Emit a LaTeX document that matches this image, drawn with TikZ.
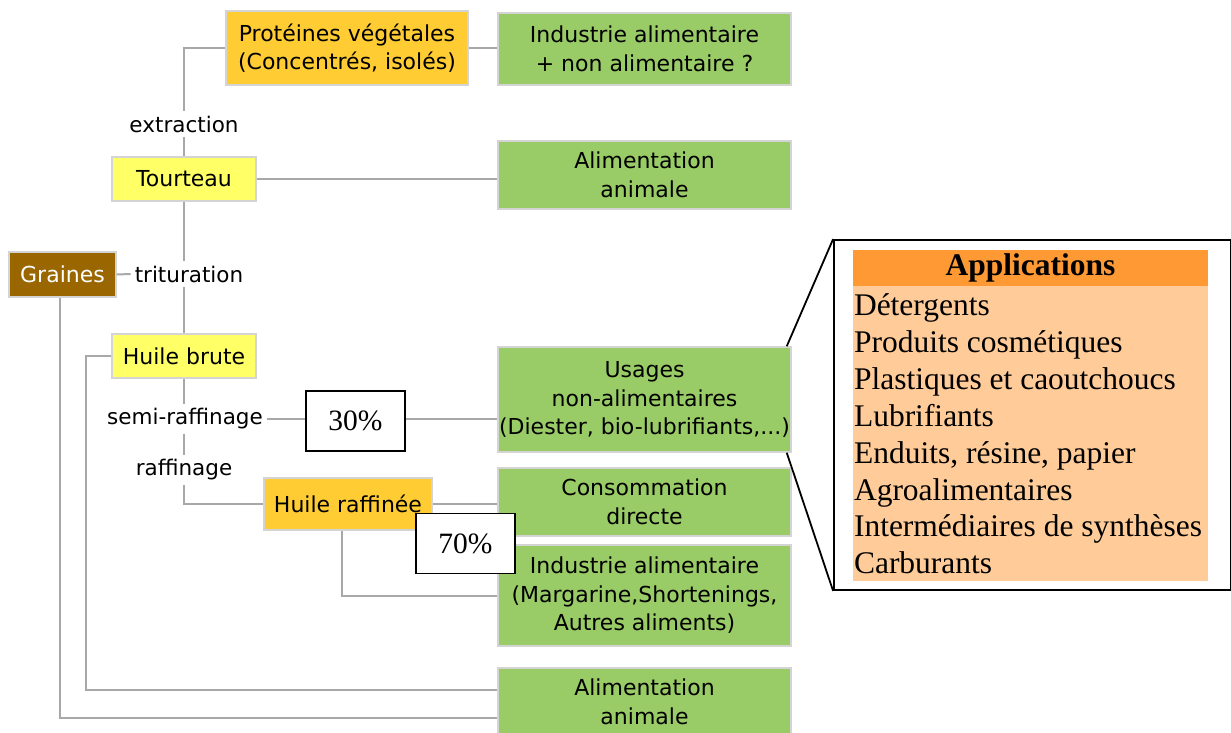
\documentclass[tikz,border=0pt]{standalone}
\usepackage{fontspec}
\setmainfont{Liberation Serif}
\newfontfamily\boitefont{DejaVu Sans}
\usetikzlibrary{positioning}
\definecolor{vert}{HTML}{99CC66}
\definecolor{jaune}{HTML}{FFFF66}
\definecolor{orangeclair}{HTML}{FFCC33}
\definecolor{brun}{HTML}{996600}
\definecolor{entetefond}{HTML}{FF9933}
\definecolor{corpsfond}{HTML}{FFCC99}
\definecolor{bord}{HTML}{D4D4D4}
\definecolor{liaison}{HTML}{A8A8A8}

\begin{document}
\begin{tikzpicture}[x=1pt, y=-1pt]
    \tikzset{boite/.style={draw=bord, line width=1.5pt, inner sep=0pt, align=center,
        font=\boitefont\fontsize{22}{28.5}\selectfont},
      etiq/.style={inner sep=4pt, font=\boitefont\fontsize{21.5}{28}\selectfont},
      pourcent/.style={draw=black, fill=white, line width=1.5pt, minimum width=99pt,
        minimum height=60pt, font=\fontsize{29.5}{34}\selectfont},
      lien/.style={draw=liaison, line width=2pt},
      appel/.style={draw=black, line width=1.8pt}}
    \useasboundingbox (0,0) rectangle (1231,733);
    \clip (0,0) rectangle (1231,733);

    \node[boite, fill=orangeclair, minimum width=242pt, minimum height=74pt] (proteines) at (347,48)
        {Protéines végétales\\(Concentrés, isolés)};
    \node[boite, fill=vert, minimum width=293pt, minimum height=72pt] (indnonalim) at (644.5,49)
        {Industrie alimentaire\\+ non alimentaire ?};
    \node[boite, fill=jaune, minimum width=144pt, minimum height=44pt] (tourteau) at (184,179) {Tourteau};
    \node[boite, fill=vert, minimum width=293pt, minimum height=68pt] (alimhaut) at (644.5,175)
        {Alimentation\\animale};
    \node[boite, fill=brun, text=white, minimum width=107pt, minimum height=45pt] (graines) at (62.5,274.5) {Graines};
    \node[boite, fill=jaune, minimum width=144pt, minimum height=44pt] (brute) at (184,356) {Huile brute};
    \node[boite, fill=vert, minimum width=293pt, minimum height=105pt] (usages) at (644.5,399.5)
        {Usages\\non-alimentaires\\(Diester, bio-lubrifiants,...)};
    \node[boite, fill=orangeclair, minimum width=168pt, minimum height=52pt] (raffinee) at (348,504) {Huile raffinée};
    \node[boite, fill=vert, minimum width=293pt, minimum height=68pt] (conso) at (644.5,502)
        {Consommation\\directe};
    \node[boite, fill=vert, minimum width=293pt, minimum height=101pt] (indalim) at (644.5,595.5)
        {Industrie alimentaire\\(Margarine,Shortenings,\\Autres aliments)};
    \node[boite, fill=vert, minimum width=293pt, minimum height=68pt] (alimbas) at (644.5,702)
        {Alimentation\\animale};

    \node[etiq] (extraction) at (184,124) {extraction};
    \node[etiq] (trituration) at (189,274) {trituration};
    \node[etiq] (semi) at (185,419) {semi-raffinage};
    \node[etiq] (raffinage) at (184,470) {raffinage};
    \node[pourcent] (p30) at (355.5,421) {30\%};

    \draw[lien] (proteines.west) -| (extraction.north);
    \draw[lien] (extraction.south) -- (tourteau.north);
    \draw[lien] (proteines.east) -- (proteines.east -| indnonalim.west);
    \draw[lien] (tourteau.east) -- (tourteau.east -| alimhaut.west);
    \draw[lien] (tourteau.south) -- (tourteau.south |- trituration.north);
    \draw[lien] (tourteau.south |- trituration.south) -- (brute.north);
    \draw[lien] (graines.east) -- (trituration.west);
    \draw[lien] (brute.south) -- (brute.south |- semi.north);
    \draw[lien] (brute.south |- semi.south) -- (raffinage.north);
    \draw[lien] (raffinage.south) |- (raffinee.west);
    \draw[lien] (semi.east) -- (semi.east -| p30.west);
    \draw[lien] (p30.east |- semi.east) -- (semi.east -| usages.west);
    \draw[lien] (raffinee.east) -- (raffinee.east -| conso.west);
    \draw[lien] ([xshift=-6pt]raffinee.south) |- (indalim.west);
    \draw[lien] (brute.west) -- ++(-25,0) |- ([yshift=12pt]alimbas.west);
    \draw[lien] ([xshift=-2.5pt]graines.south) |- ([yshift=-16pt]alimbas.west);

    \node[pourcent] (p70) at (465.5,543.5) {70\%};

    \node[appel, minimum width=397pt, minimum height=350pt] (cadre) at (1032.5,415) {};
    \draw[appel] ([xshift=-5pt]usages.north east) -- (cadre.north west);
    \draw[appel] ([xshift=-5pt]usages.south east) -- (cadre.south west);
    \node[fill=entetefond, minimum width=355pt, minimum height=36pt, inner sep=0pt,
        font=\bfseries\fontsize{31.5}{36.7}\selectfont] (entete) at (1030.5,268) {Applications};
    \node[fill=corpsfond, below=0pt of entete, text width=353pt, minimum height=295pt,
        inner xsep=1pt, inner ysep=0pt, align=flush left, font=\fontsize{31.5}{36.9}\selectfont] (liste)
        {Détergents\\Produits cosmétiques\\Plastiques et caoutchoucs\\Lubrifiants\\Enduits, résine, papier\\Agroalimentaires\\Intermédiaires de synthèses\\Carburants};
\end{tikzpicture}
\end{document}
